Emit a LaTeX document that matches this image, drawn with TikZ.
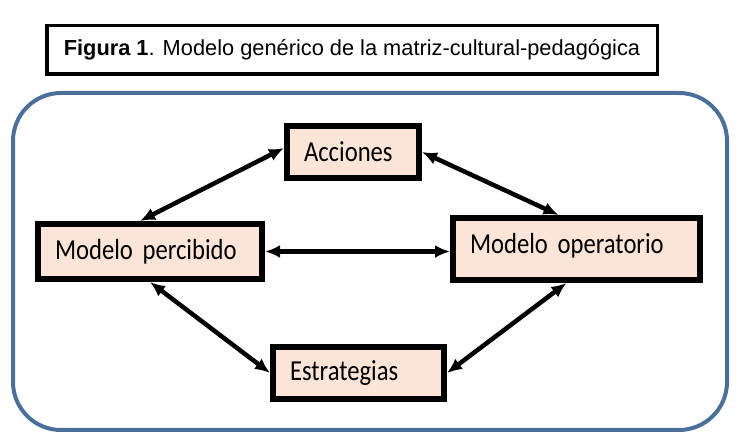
\documentclass[tikz,border=0pt]{standalone}
\usepackage{fontspec}
\setmainfont{Liberation Sans}
\newfontfamily\titlefont{Liberation Sans}
\newfontfamily\boxfont[FakeStretch=0.85]{Carlito}
\newcommand\boxtext{\boxfont\fontsize{29}{32}\selectfont\spaceskip 3.5pt\relax}
\usetikzlibrary{positioning}
\usetikzlibrary{calc}
\usetikzlibrary{arrows.meta}
\definecolor{peach}{RGB}{252,228,214}
\definecolor{steel}{RGB}{74,111,155}

\begin{document}
\begin{tikzpicture}[
    x=1pt, y=-1pt,
    >={Latex[length=15pt,width=13pt]},
    % node styles
    box/.style = {
      draw=black,
      line width=6pt,
      fill=peach,
      inner xsep=17pt,
      inner ysep=0pt,
      font=\boxtext,
      text=black
    },
    titlebox/.style = {
      draw=black,
      line width=3.5pt,
      minimum width=610.5pt,
      minimum height=48.5pt,
      inner sep=0pt,
      font=\titlefont\fontsize{21.8}{26}\selectfont
    },
    frame/.style = {draw=steel, line width=4pt, rounded corners=48pt},
    % arrow styles
    twoarr/.style = {<->, line width=4.5pt, draw=black}
  ]
  \useasboundingbox (0,0) rectangle (742,443);

  % --- Title and frame
  \node[titlebox] (title) at (352,50)
    {\textbf{Figura 1}. Modelo genérico de la matriz-cultural-pedagógica};
  \draw[frame] (13,93) rectangle (727,430);

  % --- Nodes
  \node[box, text width=98pt, minimum height=52pt] (acc) at (353,152) {\noindent Acciones};
  \node[box, text width=190pt, minimum height=55pt] (perc) at (150,251.5) {\noindent Modelo percibido};
  \node[box, text width=213pt, minimum height=62pt] (oper) at (576.5,249) {\noindent Modelo operatorio\par\vspace{6pt}};
  \node[box, text width=137pt, minimum height=52pt] (estr) at (358.5,373) {\noindent Estrategias};

  % --- Arrows
  \draw[twoarr] ([yshift=4pt]acc.west) -- ([xshift=-10pt]perc.north);
  \draw[twoarr] (acc.east) -- ([xshift=-18pt]oper.north);
  \draw[twoarr] (perc.east) -- (perc.east -| oper.west);
  \draw[twoarr] (perc.south) -- (estr.west);
  \draw[twoarr] ([xshift=-10pt]oper.south) -- (estr.east);

\end{tikzpicture}
\end{document}
